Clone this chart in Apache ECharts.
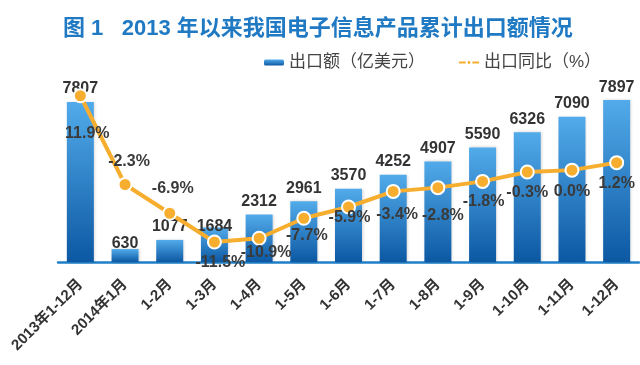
<!DOCTYPE html>
<html>
<head>
<meta charset="utf-8">
<script src="https://cdn.jsdelivr.net/npm/echarts@6/dist/echarts.min.js"></script>
<style>html,body{margin:0;padding:0;background:#fff;}#c{width:640px;height:365px;}</style>
</head>
<body>
<div id="c"></div>
<script>
var categories = ['2013年1-12月','2014年1月','1-2月','1-3月','1-4月','1-5月','1-6月','1-7月','1-8月','1-9月','1-10月','1-11月','1-12月'];
var exportValues = [7807, 630, 1077, 1684, 2312, 2961, 3570, 4252, 4907, 5590, 6326, 7090, 7897];
var growthValues = [11.9, -2.3, -6.9, -11.5, -10.9, -7.7, -5.9, -3.4, -2.8, -1.8, -0.3, 0.0, 1.2];

// label placement tweaks (layout only)
var barLabelOffsets = [0, 8, 0, 12, 0, 0, 0, 0, 0, 0, 0, 0, 0];
var lineLabelPos = ['bottom','top','top','bottom','bottom','bottom','bottom','bottom','bottom','bottom','bottom','bottom','bottom'];
var lineLabelOffsets = [[7,17],[4,-2],[3,-4],[6,0],[7,-6],[3,-3],[1,-10],[4,3],[5,7],[1,0],[0,0],[0,1],[0,0]];

var FONT = '"Liberation Sans", Arial, "Noto Sans CJK SC", sans-serif';
var chart = echarts.init(document.getElementById('c'), null, {renderer: 'canvas'});

var barData = exportValues.map(function (v, i) {
  return { value: v, label: { offset: [0, barLabelOffsets[i]] } };
});
var lineData = growthValues.map(function (v, i) {
  return { value: v, label: { position: lineLabelPos[i], offset: lineLabelOffsets[i] } };
});

chart.setOption({
  animation: false,
  backgroundColor: '#ffffff',
  title: {
    text: '图 1   2013 年以来我国电子信息产品累计出口额情况',
    left: 58, top: 13,
    textStyle: { fontFamily: FONT, fontSize: 22, fontWeight: 'bold', color: '#2079c3' }
  },
  legend: {
    left: 259, top: 49,
    itemWidth: 20, itemHeight: 6, itemGap: 33,
    textStyle: { fontFamily: FONT, fontSize: 17, color: '#444' },
    data: ['出口额（亿美元）', '出口同比（%）']
  },
  grid: { left: 58, right: 1, top: 57, bottom: 103 },
  xAxis: {
    type: 'category',
    data: categories,
    axisLine: { lineStyle: { color: '#1f7fc7', width: 2.5 } },
    axisTick: { show: false },
    axisLabel: { rotate: 45, margin: 20, interval: 0, fontFamily: FONT, fontSize: 15, fontWeight: 'bold', color: '#333' }
  },
  yAxis: [
    { type: 'value', min: 0, max: 10000, show: false, splitLine: { show: false } },
    { type: 'value', min: -14.7, max: 18.1, show: false, splitLine: { show: false } }
  ],
  series: [
    {
      name: '出口额（亿美元）',
      type: 'bar',
      data: barData,
      barWidth: 27,
      itemStyle: {
        color: new echarts.graphic.LinearGradient(0, 0, 0, 1, [
          { offset: 0, color: '#52abea' },
          { offset: 1, color: '#0c58a3' }
        ]),
        shadowBlur: 3, shadowColor: 'rgba(0,0,0,0.18)', shadowOffsetX: 1
      },
      label: {
        show: true, position: 'top', distance: 5,
        fontFamily: FONT, fontSize: 16, fontWeight: 'bold', color: '#333'
      }
    },
    {
      name: '出口同比（%）',
      type: 'line',
      yAxisIndex: 1,
      data: lineData,
      symbol: 'circle',
      symbolSize: 13,
      lineStyle: { color: '#f7ae2f', width: 4 },
      itemStyle: { color: '#f7ae2f', borderColor: '#ffffff', borderWidth: 2 },
      label: {
        show: true, distance: 5,
        fontFamily: FONT, fontSize: 16, fontWeight: 'bold', color: '#3a3a3a',
        formatter: function (p) { return p.value.toFixed(1) + '%'; }
      },
      z: 3
    }
  ]
});
</script>
</body>
</html>
